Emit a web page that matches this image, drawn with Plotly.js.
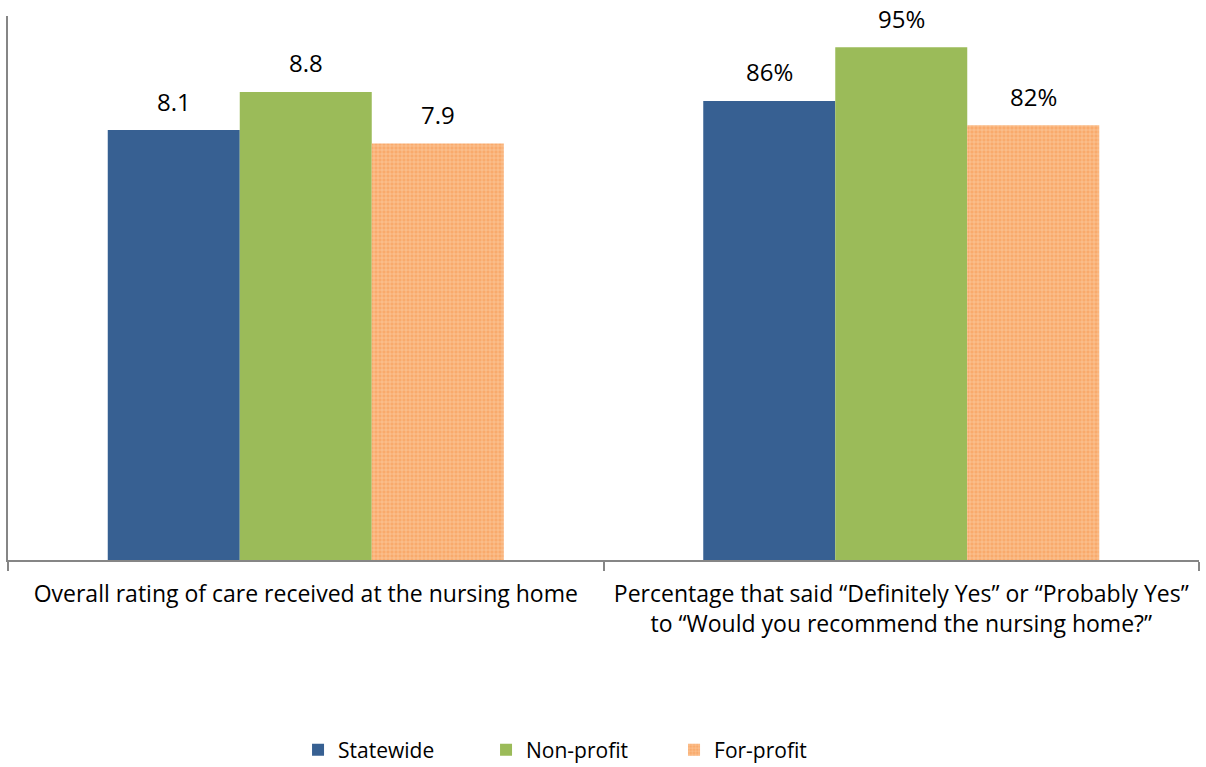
<!DOCTYPE html>
<html>
<head>
<meta charset="utf-8">
<script src="https://cdn.plot.ly/plotly-3.0.1.min.js"></script>
<style>html,body{margin:0;padding:0;background:#fff;}#chart{width:1206px;height:767px;}</style>
</head>
<body>
<div id="chart"></div>
<script>
const categories = [
  "Overall rating of care received at the nursing home",
  "Percentage that said \u201cDefinitely Yes\u201d or \u201cProbably Yes\u201d<br>to \u201cWould you recommend the nursing home?\u201d"
];
const seriesNames = ["Statewide", "Non-profit", "For-profit"];
const statewide = [8.1, 8.65];
const nonprofit = [8.82, 9.66];
const forprofit = [7.85, 8.19];
const statewideLabels = ["8.1", "86%"];
const nonprofitLabels = ["8.8", "95%"];
const forprofitLabels = ["7.9", "82%"];

const font = "'Open Sans', sans-serif";
const colors = ["#376092", "#9BBB59", "#F9AA6C"];

const traces = [
  {type: "bar", name: seriesNames[0], x: categories, y: statewide, marker: {color: colors[0]}},
  {type: "bar", name: seriesNames[1], x: categories, y: nonprofit, marker: {color: colors[1]}},
  {type: "bar", name: seriesNames[2], x: categories, y: forprofit,
   marker: {color: colors[2], pattern: {shape: "+", bgcolor: colors[2], fgcolor: "#FCD2AC", size: 4, solidity: 0.25, fillmode: "replace"}}}
];

// data labels placed above each bar, offset by group position
const allVals = [statewide, nonprofit, forprofit];
const allLabels = [statewideLabels, nonprofitLabels, forprofitLabels];
const annotations = [];
allVals.forEach((vals, s) => {
  vals.forEach((v, i) => {
    annotations.push({x: categories[i], y: v, xref: "x", yref: "y", text: allLabels[s][i],
      showarrow: false, xshift: (s - 1) * 132, yshift: 29, yanchor: "middle",
      font: {family: font, size: 24, color: "#000"}});
  });
});

const layout = {
  width: 1206, height: 767,
  margin: {l: 8, r: 7, t: 16, b: 207},
  paper_bgcolor: "#fff", plot_bgcolor: "#fff",
  barmode: "group", bargap: 0.335, bargroupgap: 0,
  font: {family: font, size: 20, color: "#000"},
  showlegend: true,
  annotations: annotations,
  legend: {orientation: "h", x: 0.4803, xanchor: "center", yref: "container", y: 0.022, yanchor: "middle",
           font: {family: font, size: 21, color: "#000"}, itemwidth: 30, entrywidth: 143},
  xaxis: {showline: true, linecolor: "#868686", linewidth: 2, ticks: "outside", tickson: "boundaries",
          ticklen: 9, tickwidth: 2, tickcolor: "#868686", ticklabelstandoff: 12,
          tickfont: {family: font, size: 23, color: "#000"}, automargin: false,
          showgrid: false, zeroline: false},
  yaxis: {range: [0, 10.25], showline: true, linecolor: "#868686", linewidth: 2, showticklabels: false,
          ticks: "", showgrid: false, zeroline: false, automargin: false}
};

Plotly.newPlot("chart", traces, layout, {displayModeBar: false});
</script>
</body>
</html>
